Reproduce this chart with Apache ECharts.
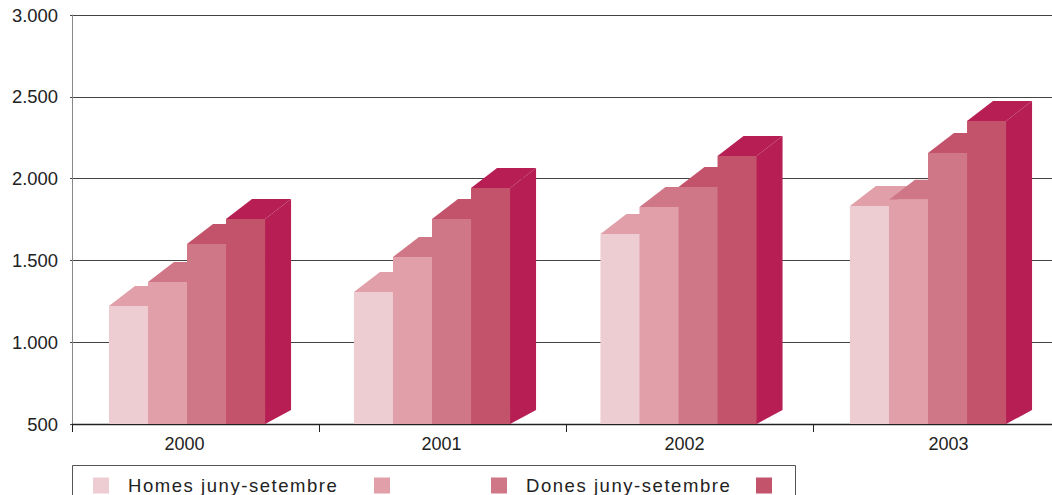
<!DOCTYPE html>
<html><head><meta charset="utf-8">
<style>
html,body{margin:0;padding:0;background:#fff;overflow:hidden;width:1052px;height:495px}
#c{width:1070px;height:495px}
#c svg text[style*="18.5px"]{letter-spacing:1.55px}
</style>
<script src="https://cdn.jsdelivr.net/npm/echarts@6/dist/echarts.min.js"></script>
</head><body><div id="c"></div>
<script>
const categories = ['2000','2001','2002','2003'];
const homesJunySetembre = [1221,1307,1661,1833];
const homesAltres = [1368,1521,1826,1870];
const donesJunySetembre = [1600,1753,1949,2157];
const donesAltres = [1753,1943,2138,2352];
const seriesNames = ['Homes juny-setembre',' ','Dones juny-setembre','  '];
const seriesValues = [homesJunySetembre,homesAltres,donesJunySetembre,donesAltres];
const colors = ['#eecdd2','#e09fa9','#d07787','#c3526b'];
const sideColor = '#b61e54';
const legendLefts = [93,374,491,756];

const DEPTH_X = 26, DEPTH_TOP = 20, DEPTH_BOTTOM = 14;
const GROUP_SHIFT = [-8.5,-10.5,-11,-8.5];
const labelStyles = ['a','b','c','d'];

function makeRender(tier){
  return function(params, api){
    const cat = api.value(0);
    const top = api.coord([cat, api.value(1)]);
    const base = api.coord([cat, 500]);
    const w = api.size([1,0])[0]*0.158;
    const x0 = top[0] + GROUP_SHIFT[cat] + (tier-2)*w;
    const x1 = x0 + w;
    const topColor = tier < 3 ? colors[tier+1] : sideColor;
    const children = [
      {type:'polygon',shape:{points:[[x0,top[1]],[x1,top[1]],[x1+DEPTH_X,top[1]-DEPTH_TOP],[x0+DEPTH_X,top[1]-DEPTH_TOP]]},style:{fill:topColor}},
      {type:'rect',shape:{x:x0,y:top[1],width:w+0.5,height:base[1]-top[1]},style:{fill:colors[tier]}}
    ];
    if(tier===3){
      children.push({type:'polygon',shape:{points:[[x1,top[1]],[x1+DEPTH_X,top[1]-DEPTH_TOP],[x1+DEPTH_X,base[1]-DEPTH_BOTTOM],[x1,base[1]]]},style:{fill:sideColor}});
    }
    return {type:'group',children};
  };
}

const chart = echarts.init(document.getElementById('c'),null,{renderer:'svg'});
chart.setOption({
  animation:false,
  backgroundColor:'#fff',
  textStyle:{fontFamily:'Liberation Sans'},
  grid:{left:72,top:15,width:988,height:409,containLabel:false},
  xAxis:{type:'category',data:categories,
    axisLine:{lineStyle:{color:'#222',width:1.4}},
    axisTick:{show:true,length:8,lineStyle:{color:'#222',width:1}},
    axisLabel:{color:'#222',fontSize:18,margin:11,
      formatter:(v,i)=>'{'+labelStyles[i]+'|'+v+'}',
      rich:{a:{padding:[0,22,0,0]},b:{padding:[0,2,0,0]},c:{padding:[0,10,0,0]},d:{padding:[0,0,0,24]}}}},
  yAxis:{type:'value',min:500,max:3000,interval:500,
    axisLine:{show:true,lineStyle:{color:'#888',width:1}},
    axisTick:{show:true,length:2,lineStyle:{color:'#444'}},
    axisLabel:{color:'#222',fontSize:18.4,margin:14,formatter:v=>String(v).replace(/(\d)(\d{3})$/,'$1.$2')},
    splitLine:{show:true,lineStyle:{color:'#444',width:1}}},
  legend:seriesNames.map((n,i)=>({
    left:legendLefts[i],top:476,data:[n],itemWidth:16,itemHeight:16,icon:'rect',padding:0,
    selectedMode:false,
    textStyle:{color:'#222',fontFamily:'Liberation Sans',fontSize:18.5,padding:[0,0,0,14]}
  })),
  graphic:[{type:'rect',left:72,top:465,z:-1,shape:{width:723,height:60},style:{fill:'#fff',stroke:'#555',lineWidth:1}}],
  series:seriesNames.map((n,i)=>({
    name:n,type:'custom',itemStyle:{color:colors[i]},
    encode:{x:0,y:1},
    renderItem:makeRender(i),
    data:seriesValues[i].map((v,k)=>[k,v])
  }))
});
</script></body></html>
